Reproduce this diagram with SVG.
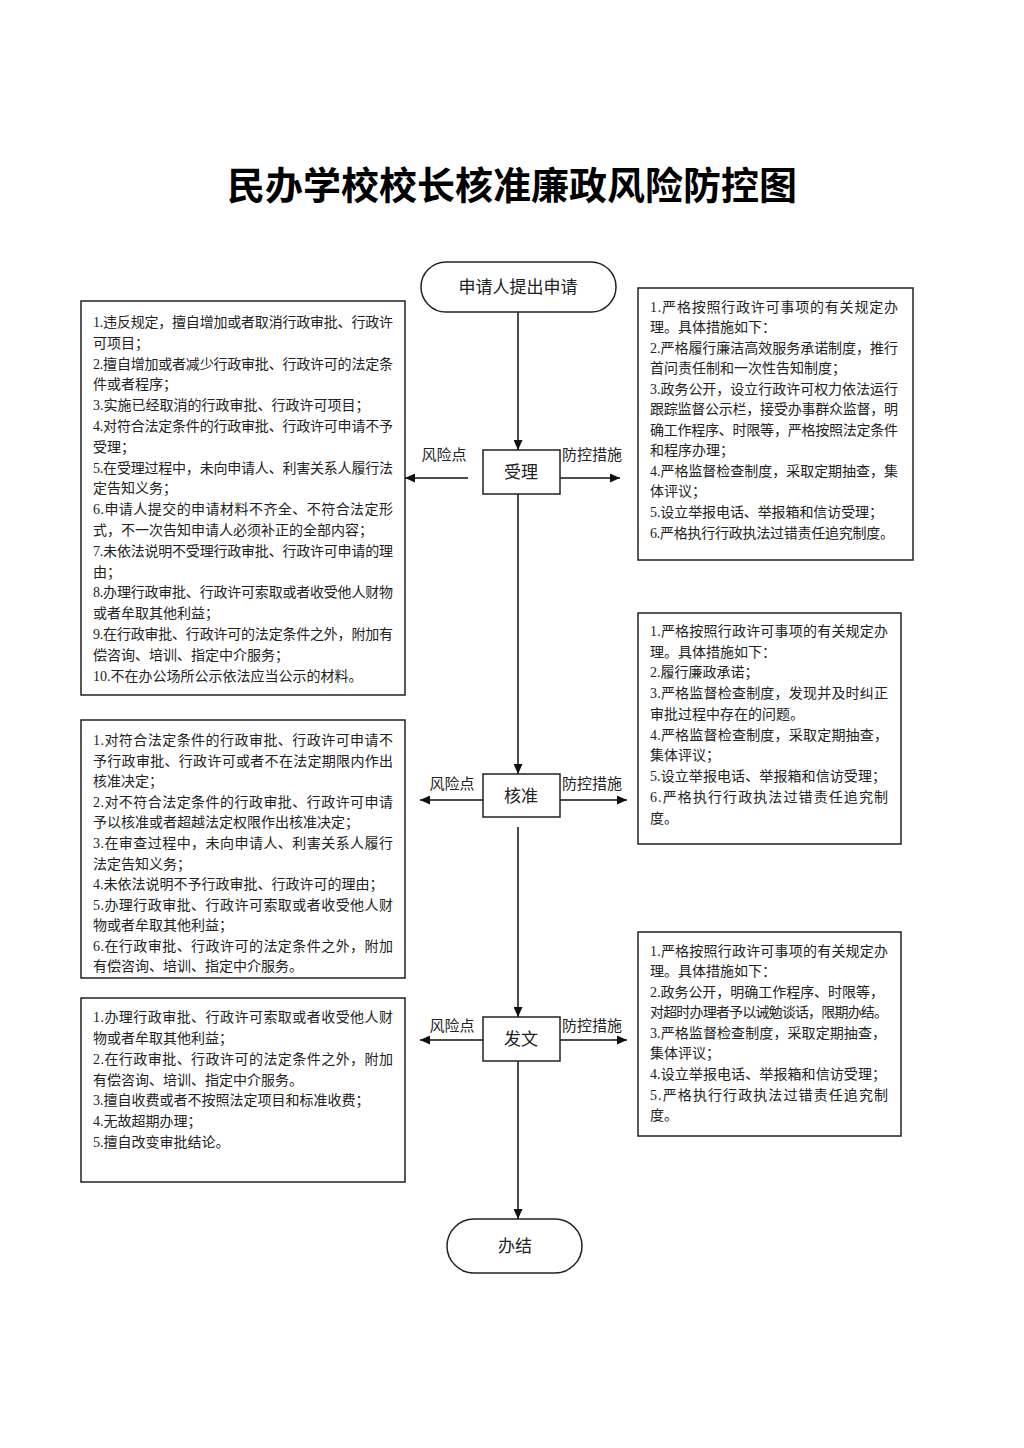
<svg xmlns="http://www.w3.org/2000/svg" width="1024" height="1448" viewBox="0 0 1024 1448">
<defs>
<marker id="arr" markerUnits="userSpaceOnUse" markerWidth="10" markerHeight="9" refX="10" refY="4.5" orient="auto">
<path d="M0,0 L10,4.5 L0,9 z" fill="#111"/>
</marker>
<style>
text{font-family:"Liberation Serif","Noto Sans CJK SC",serif;fill:#222}
.title{font-size:38px;font-weight:bold;fill:#000;text-anchor:middle}
.node{fill:#fff;stroke:#222;stroke-width:1.5}
.nl{font-size:17px;text-anchor:middle}
.box{fill:#fff;stroke:#222;stroke-width:1.5}
.t{font-size:14px}
.lab{font-size:15px;text-anchor:middle}
.c{stroke:#111;stroke-width:1.5;fill:none;marker-end:url(#arr)}
</style>
</defs>
<rect width="1024" height="1448" fill="#fff"/>
<text class="title" x="512" y="199">民办学校校长核准廉政风险防控图</text>

<g id="connectors">
<line class="c" x1="518" y1="312" x2="518" y2="450"/>
<line class="c" x1="518" y1="494" x2="518" y2="774"/>
<line class="c" x1="518" y1="827" x2="518" y2="1017"/>
<line class="c" x1="518" y1="1061" x2="518" y2="1219"/>
<line class="c" x1="468" y1="478" x2="405" y2="478"/>
<line class="c" x1="560" y1="478" x2="620" y2="478"/>
<line class="c" x1="483" y1="800" x2="420" y2="800"/>
<line class="c" x1="560" y1="800" x2="627" y2="800"/>
<line class="c" x1="483" y1="1040" x2="420" y2="1040"/>
<line class="c" x1="560" y1="1040" x2="627" y2="1040"/>
<text class="lab" x="444" y="460">风险点</text>
<text class="lab" x="592" y="460">防控措施</text>
<text class="lab" x="452" y="789">风险点</text>
<text class="lab" x="592" y="789">防控措施</text>
<text class="lab" x="452" y="1031">风险点</text>
<text class="lab" x="592" y="1031">防控措施</text>
</g>

<g id="start">
<rect class="node" x="421" y="262" width="195" height="50" rx="25"/>
<text class="nl" x="518" y="293">申请人提出申请</text>
</g>
<g id="shouli">
<rect class="node" x="483" y="450" width="77" height="44"/>
<text class="nl" x="521" y="478">受理</text>
</g>
<g id="hezhun">
<rect class="node" x="483" y="774" width="77" height="43"/>
<text class="nl" x="521" y="802">核准</text>
</g>
<g id="fawen">
<rect class="node" x="483" y="1017" width="77" height="44"/>
<text class="nl" x="521" y="1045">发文</text>
</g>
<g id="end">
<rect class="node" x="447" y="1219" width="135" height="54" rx="27"/>
<text class="nl" x="515" y="1252">办结</text>
</g>

<g id="risk1">
<rect class="box" x="81" y="301" width="324" height="394"/>
<text class="t" x="93" y="327" textLength="300" lengthAdjust="spacing">1.违反规定，擅自增加或者取消行政审批、行政许</text>
<text class="t" x="93" y="348">可项目；</text>
<text class="t" x="93" y="369" textLength="300" lengthAdjust="spacing">2.擅自增加或者减少行政审批、行政许可的法定条</text>
<text class="t" x="93" y="389">件或者程序；</text>
<text class="t" x="93" y="410">3.实施已经取消的行政审批、行政许可项目；</text>
<text class="t" x="93" y="431" textLength="300" lengthAdjust="spacing">4.对符合法定条件的行政审批、行政许可申请不予</text>
<text class="t" x="93" y="452">受理；</text>
<text class="t" x="93" y="473" textLength="300" lengthAdjust="spacing">5.在受理过程中，未向申请人、利害关系人履行法</text>
<text class="t" x="93" y="493">定告知义务；</text>
<text class="t" x="93" y="514" textLength="300" lengthAdjust="spacing">6.申请人提交的申请材料不齐全、不符合法定形</text>
<text class="t" x="93" y="535">式，不一次告知申请人必须补正的全部内容；</text>
<text class="t" x="93" y="556" textLength="300" lengthAdjust="spacing">7.未依法说明不受理行政审批、行政许可申请的理</text>
<text class="t" x="93" y="577">由；</text>
<text class="t" x="93" y="597" textLength="300" lengthAdjust="spacing">8.办理行政审批、行政许可索取或者收受他人财物</text>
<text class="t" x="93" y="618">或者牟取其他利益；</text>
<text class="t" x="93" y="639" textLength="300" lengthAdjust="spacing">9.在行政审批、行政许可的法定条件之外，附加有</text>
<text class="t" x="93" y="660">偿咨询、培训、指定中介服务；</text>
<text class="t" x="93" y="681">10.不在办公场所公示依法应当公示的材料。</text>
</g>

<g id="measure1">
<rect class="box" x="638" y="288" width="275" height="272"/>
<text class="t" x="650" y="312" textLength="248" lengthAdjust="spacing">1.严格按照行政许可事项的有关规定办</text>
<text class="t" x="650" y="332">理。具体措施如下：</text>
<text class="t" x="650" y="353" textLength="248" lengthAdjust="spacing">2.严格履行廉洁高效服务承诺制度，推行</text>
<text class="t" x="650" y="373">首问责任制和一次性告知制度；</text>
<text class="t" x="650" y="394" textLength="248" lengthAdjust="spacing">3.政务公开，设立行政许可权力依法运行</text>
<text class="t" x="650" y="414" textLength="248" lengthAdjust="spacing">跟踪监督公示栏，接受办事群众监督，明</text>
<text class="t" x="650" y="435" textLength="248" lengthAdjust="spacing">确工作程序、时限等，严格按照法定条件</text>
<text class="t" x="650" y="455">和程序办理；</text>
<text class="t" x="650" y="476" textLength="248" lengthAdjust="spacing">4.严格监督检查制度，采取定期抽查，集</text>
<text class="t" x="650" y="496">体评议；</text>
<text class="t" x="650" y="517" textLength="233" lengthAdjust="spacing">5.设立举报电话、举报箱和信访受理；</text>
<text class="t" x="650" y="538" textLength="244" lengthAdjust="spacing">6.严格执行行政执法过错责任追究制度。</text>
</g>

<g id="risk2">
<rect class="box" x="81" y="720" width="324" height="258"/>
<text class="t" x="93" y="745" textLength="300" lengthAdjust="spacing">1.对符合法定条件的行政审批、行政许可申请不</text>
<text class="t" x="93" y="766" textLength="300" lengthAdjust="spacing">予行政审批、行政许可或者不在法定期限内作出</text>
<text class="t" x="93" y="786">核准决定；</text>
<text class="t" x="93" y="807" textLength="300" lengthAdjust="spacing">2.对不符合法定条件的行政审批、行政许可申请</text>
<text class="t" x="93" y="827">予以核准或者超越法定权限作出核准决定；</text>
<text class="t" x="93" y="848" textLength="300" lengthAdjust="spacing">3.在审查过程中，未向申请人、利害关系人履行</text>
<text class="t" x="93" y="869">法定告知义务；</text>
<text class="t" x="93" y="889">4.未依法说明不予行政审批、行政许可的理由；</text>
<text class="t" x="93" y="910" textLength="300" lengthAdjust="spacing">5.办理行政审批、行政许可索取或者收受他人财</text>
<text class="t" x="93" y="930">物或者牟取其他利益；</text>
<text class="t" x="93" y="951" textLength="300" lengthAdjust="spacing">6.在行政审批、行政许可的法定条件之外，附加</text>
<text class="t" x="93" y="971">有偿咨询、培训、指定中介服务。</text>
</g>

<g id="measure2">
<rect class="box" x="638" y="613" width="263" height="231"/>
<text class="t" x="650" y="636" textLength="238" lengthAdjust="spacing">1.严格按照行政许可事项的有关规定办</text>
<text class="t" x="650" y="657">理。具体措施如下：</text>
<text class="t" x="650" y="677">2.履行廉政承诺；</text>
<text class="t" x="650" y="698" textLength="238" lengthAdjust="spacing">3.严格监督检查制度，发现并及时纠正</text>
<text class="t" x="650" y="719">审批过程中存在的问题。</text>
<text class="t" x="650" y="740" textLength="238" lengthAdjust="spacing">4.严格监督检查制度，采取定期抽查，</text>
<text class="t" x="650" y="760">集体评议；</text>
<text class="t" x="650" y="781" textLength="236" lengthAdjust="spacing">5.设立举报电话、举报箱和信访受理；</text>
<text class="t" x="650" y="802" textLength="238" lengthAdjust="spacing">6.严格执行行政执法过错责任追究制</text>
<text class="t" x="650" y="823">度。</text>
</g>

<g id="risk3">
<rect class="box" x="81" y="998" width="324" height="184"/>
<text class="t" x="93" y="1022" textLength="300" lengthAdjust="spacing">1.办理行政审批、行政许可索取或者收受他人财</text>
<text class="t" x="93" y="1043">物或者牟取其他利益；</text>
<text class="t" x="93" y="1064" textLength="300" lengthAdjust="spacing">2.在行政审批、行政许可的法定条件之外，附加</text>
<text class="t" x="93" y="1085">有偿咨询、培训、指定中介服务。</text>
<text class="t" x="93" y="1105">3.擅自收费或者不按照法定项目和标准收费；</text>
<text class="t" x="93" y="1126">4.无故超期办理；</text>
<text class="t" x="93" y="1147">5.擅自改变审批结论。</text>
</g>

<g id="measure3">
<rect class="box" x="638" y="932" width="263" height="204"/>
<text class="t" x="650" y="956" textLength="238" lengthAdjust="spacing">1.严格按照行政许可事项的有关规定办</text>
<text class="t" x="650" y="976">理。具体措施如下：</text>
<text class="t" x="650" y="997" textLength="234" lengthAdjust="spacing">2.政务公开，明确工作程序、时限等，</text>
<text class="t" x="650" y="1017" textLength="238" lengthAdjust="spacing">对超时办理者予以诫勉谈话，限期办结。</text>
<text class="t" x="650" y="1038" textLength="236" lengthAdjust="spacing">3.严格监督检查制度，采取定期抽查，</text>
<text class="t" x="650" y="1058">集体评议；</text>
<text class="t" x="650" y="1079" textLength="236" lengthAdjust="spacing">4.设立举报电话、举报箱和信访受理；</text>
<text class="t" x="650" y="1100" textLength="238" lengthAdjust="spacing">5.严格执行行政执法过错责任追究制</text>
<text class="t" x="650" y="1120">度。</text>
</g>
</svg>
